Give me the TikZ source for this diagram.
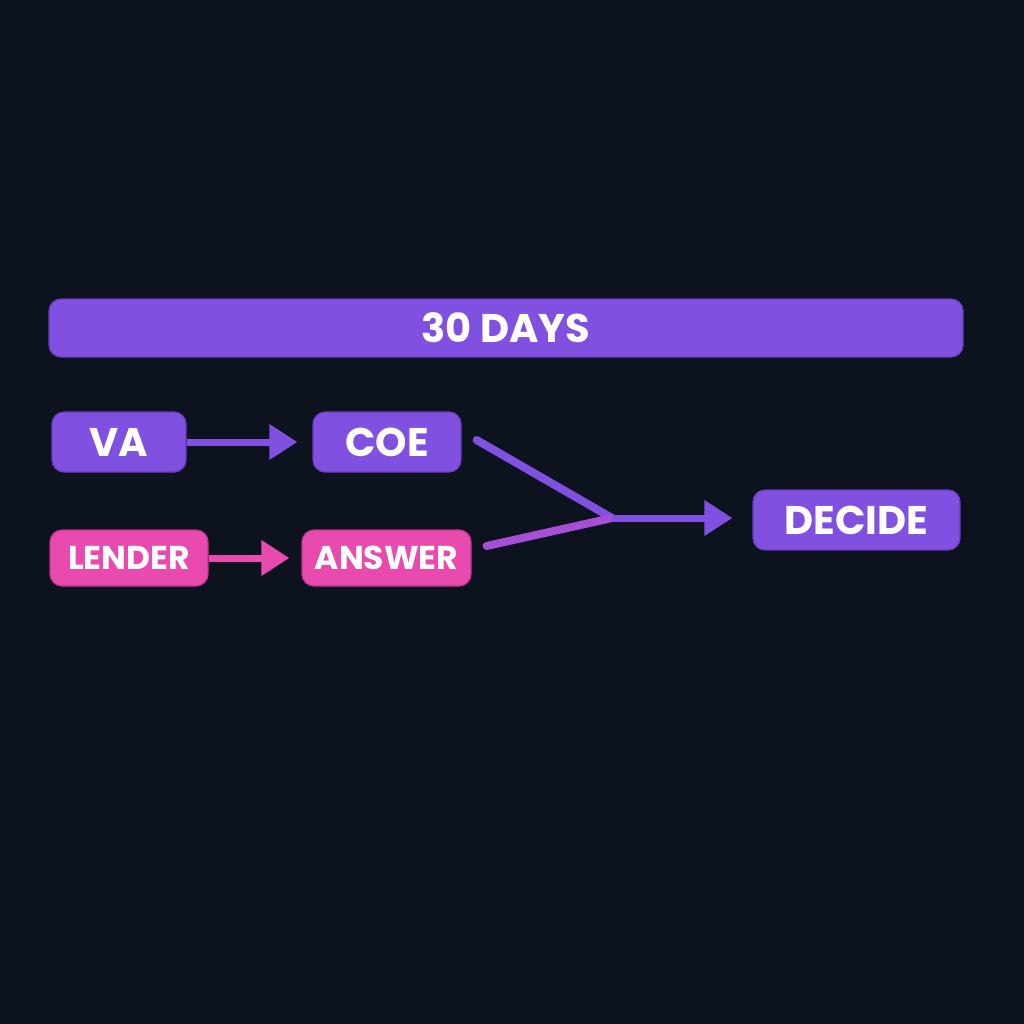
\documentclass[tikz,border=0pt]{standalone}
\usepackage{fontspec}
\setmainfont{Poppins}
\usetikzlibrary{arrows.meta}
\definecolor{bg}{HTML}{0C121E}
\definecolor{vio}{HTML}{8050E0}
\definecolor{viodark}{HTML}{6A3CC0}
\definecolor{pnk}{HTML}{E84AAE}
\definecolor{pnkdark}{HTML}{C03590}
\definecolor{mixc}{HTML}{A64FD6}
\tikzset{
  box/.style={rounded corners=12pt, line width=1.2pt, align=center, text=white, font=\bfseries, inner sep=0pt},
  vbox/.style={box, fill=vio, draw=viodark},
  pbox/.style={box, fill=pnk, draw=pnkdark},
  big/.style={font=\fontsize{40}{42}\selectfont\bfseries},
  small/.style={font=\fontsize{33}{35}\selectfont\bfseries},
  arr/.style={line width=7pt, -{Triangle[length=28pt,width=34pt]}},
  link/.style={line width=8pt, line cap=round},
}
\begin{document}
\begin{tikzpicture}[x=1pt,y=-1pt]
\fill[bg] (0,0) rectangle (1024,1024);
\useasboundingbox (0,0) rectangle (1024,1024);
\node[vbox, big, minimum width=914pt, minimum height=58pt] (bar) at (506,328) {30 DAYS};
\node[vbox, big, minimum width=134pt, minimum height=60pt] (va) at (119,442) {VA};
\node[vbox, big, minimum width=148pt, minimum height=60pt] (coe) at (387,442) {COE};
\node[pbox, small, minimum width=158pt, minimum height=56pt] (lender) at (129,558) {LENDER};
\node[pbox, small, minimum width=169pt, minimum height=56pt] (answer) at (386.5,558) {ANSWER};
\node[vbox, big, minimum width=207pt, minimum height=60pt] (decide) at (856.5,520) {DECIDE};
\coordinate (m) at (612,518);
\coordinate (mt) at ([xshift=-20pt]decide.west |- m);
\draw[arr, vio] (va.east) -- ([xshift=-15pt]coe.west);
\draw[arr, pnk] (lender.east) -- ([xshift=-12pt]answer.west);
\draw[link, vio] ([xshift=15pt,yshift=2pt]coe.east) -- (m);
\draw[link, mixc] ([xshift=15pt,yshift=12pt]answer.east) -- (m);
\draw[arr, vio] (m) -- (mt);
\end{tikzpicture}
\end{document}
